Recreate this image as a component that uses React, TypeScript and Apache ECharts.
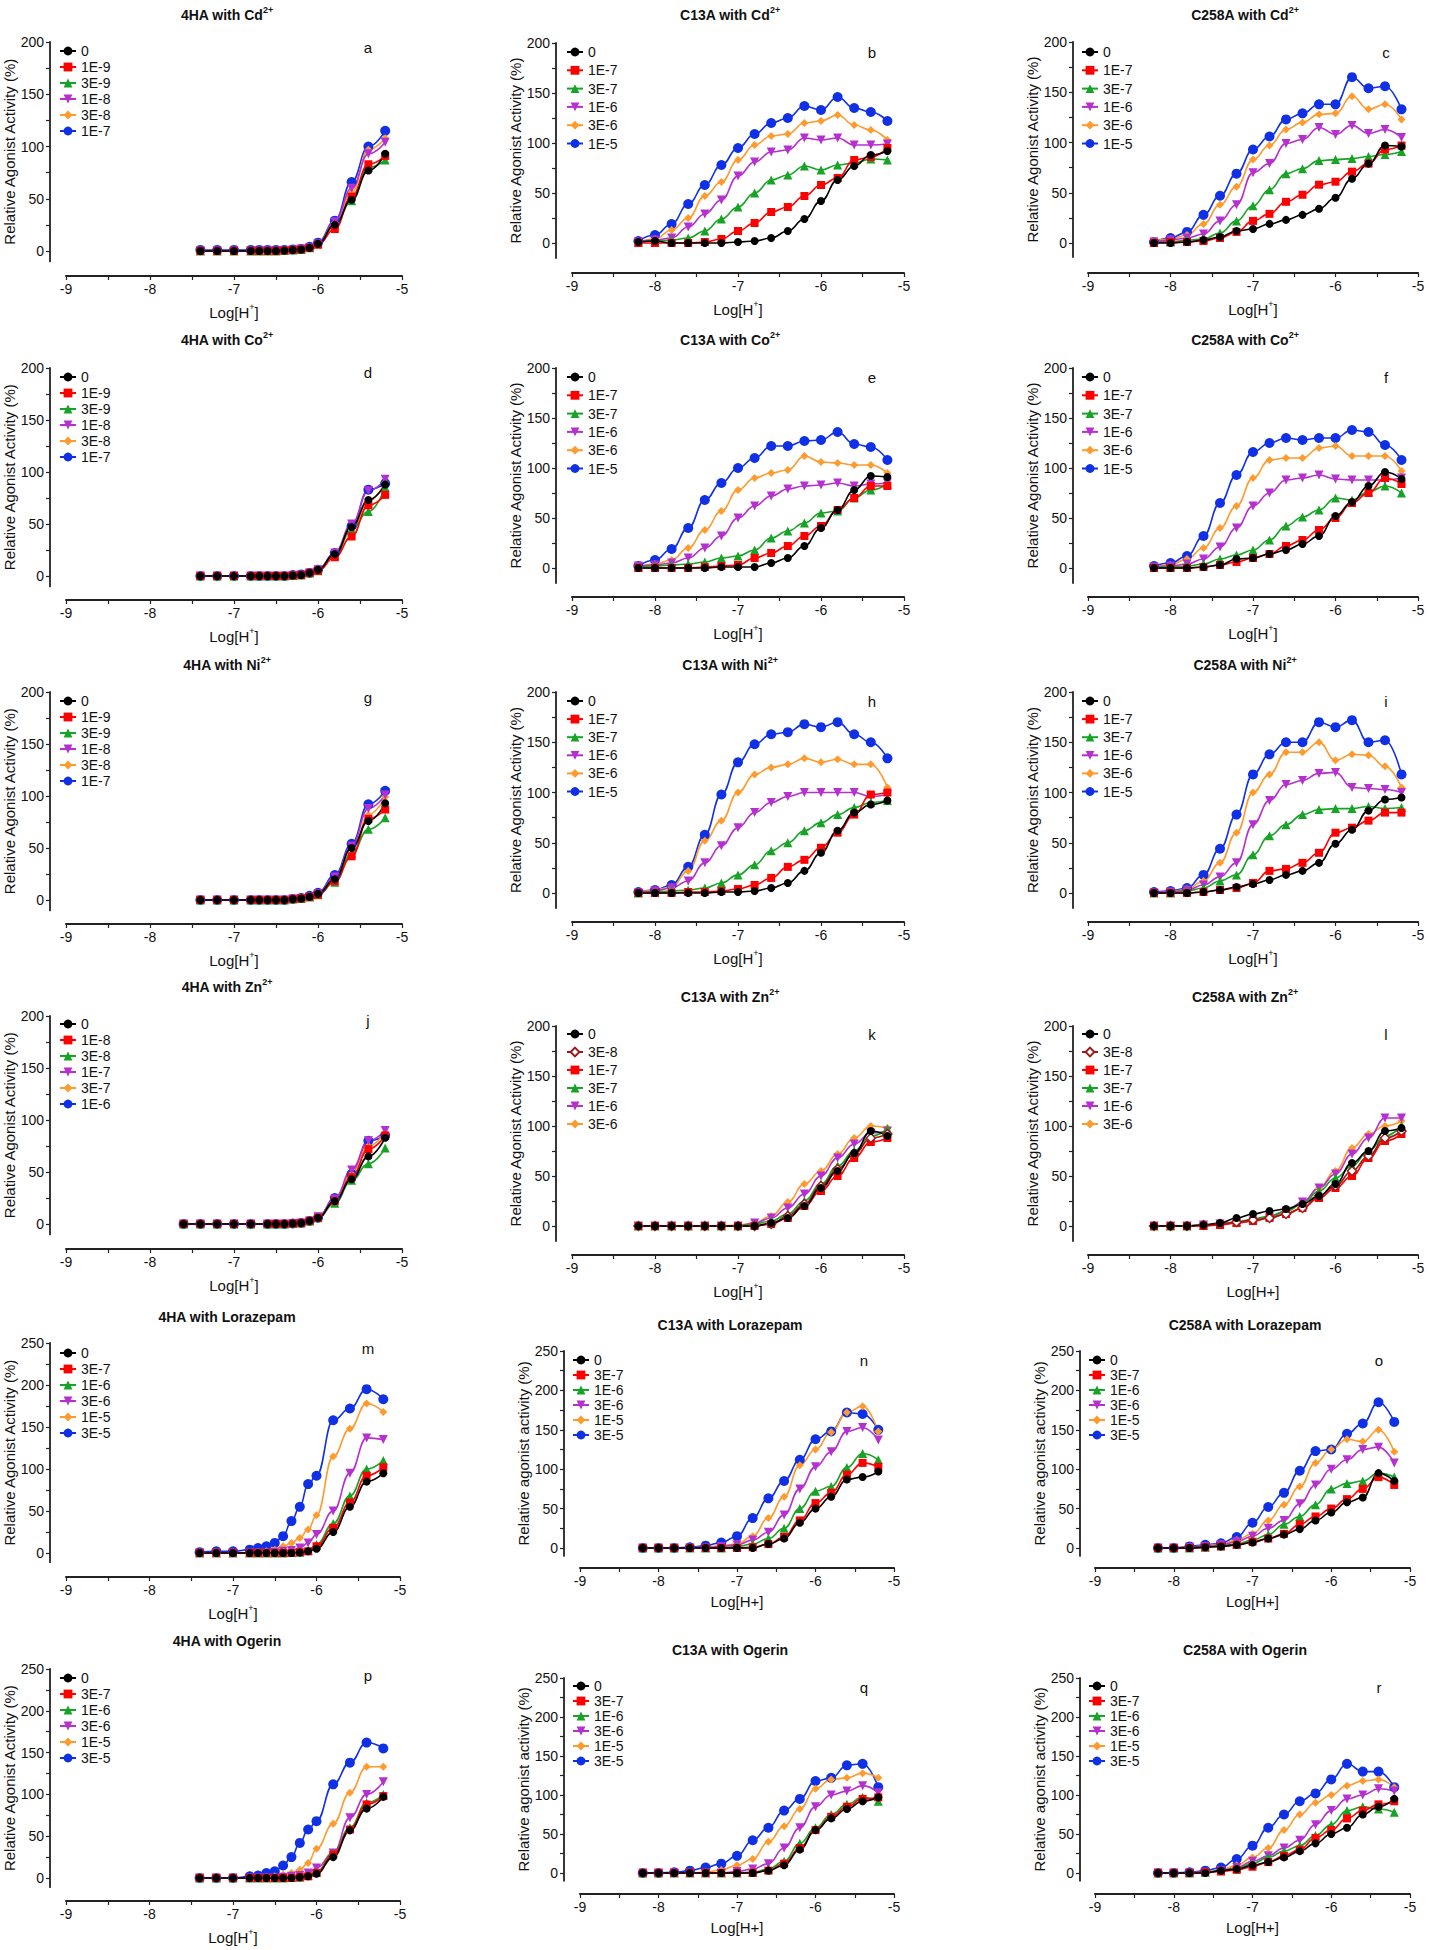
import React, { useEffect, useRef } from "react";
import * as echarts from "echarts";

// ---------- x values (log[H+]) ----------
const X_4HA = [-7.4, -7.2, -7.0, -6.8, -6.7, -6.6, -6.5, -6.4, -6.3, -6.2, -6.1, -6.0, -5.8, -5.6, -5.4, -5.2];
const X_4HA_ZN = [-7.6, -7.4, -7.2, -7.0, -6.8, -6.6, -6.5, -6.4, -6.3, -6.2, -6.1, -6.0, -5.8, -5.6, -5.4, -5.2];
const X_MUT = [-8.2, -8.0, -7.8, -7.6, -7.4, -7.2, -7.0, -6.8, -6.6, -6.4, -6.2, -6.0, -5.8, -5.6, -5.4, -5.2];

// ---------- legend labels ----------
const LEG_4HA_METAL = ["0", "1E-9", "3E-9", "1E-8", "3E-8", "1E-7"];
const LEG_MUT_METAL = ["0", "1E-7", "3E-7", "1E-6", "3E-6", "1E-5"];
const LEG_4HA_ZN = ["0", "1E-8", "3E-8", "1E-7", "3E-7", "1E-6"];
const LEG_MUT_ZN = ["0", "3E-8", "1E-7", "3E-7", "1E-6", "3E-6"];
const LEG_DRUG = ["0", "3E-7", "1E-6", "3E-6", "1E-5", "3E-5"];

// ---------- tick labels ----------
const X_TICKS = [-9, -8, -7, -6, -5];
const Y_LABELS_200 = [0, 50, 100, 150, 200];
const Y_TICKS_200 = [0, 25, 50, 75, 100, 125, 150, 175, 200];
const Y_LABELS_250 = [0, 50, 100, 150, 200, 250];
const Y_TICKS_250 = [0, 25, 50, 75, 100, 125, 150, 175, 200, 225, 250];

// ---------- values (%), one row per concentration, in legend order ----------
const A_VALS = [
  [0, 0, 0, 0, 0, 0, 0, 0.5, 1, 1.5, 3, 7, 25, 49, 77, 93],
  [0, 0, 0, 0, 0, 0, 0, 0.5, 1, 1.5, 3, 6, 21, 52, 83, 91],
  [0, 0, 0, 0, 0, 0, 0, 0.5, 1, 1.5, 3, 7, 25, 48, 80, 87],
  [0, 0, 0, 0, 0, 0, 0, 0.5, 1, 2, 3, 7, 28, 60, 93, 104],
  [0, 0, 0, 0, 0, 0, 0, 0.5, 1, 2, 3, 7, 27, 56, 97, 108],
  [1, 1, 1, 1, 1, 1, 1, 1, 1.5, 2, 4, 8, 29, 66, 100, 115],
];
const B_VALS = [
  [1, 2, 0, 0, 0, 0, 1, 2, 5, 12, 24, 42, 63, 77, 88, 92],
  [0, 0, 0, 0, 1, 4, 12, 20, 31, 36, 47, 58, 65, 83, 86, 95],
  [1, 2, 3, 5, 12, 24, 36, 50, 63, 68, 77, 73, 78, 80, 84, 83],
  [1, 3, 5, 16, 29, 43, 67, 81, 91, 93, 105, 103, 105, 98, 98, 99],
  [1, 4, 13, 25, 47, 61, 83, 98, 107, 109, 120, 122, 128, 118, 113, 103],
  [2, 8, 19, 39, 58, 78, 95, 109, 120, 125, 137, 133, 146, 135, 131, 122],
];
const C_VALS = [
  [0, 0, 1, 3, 6, 12, 14, 19, 23, 28, 34, 45, 64, 79, 97, 96],
  [0, 1, 1, 2, 5, 11, 22, 29, 41, 48, 58, 61, 71, 79, 93, 97],
  [1, 1, 3, 4, 10, 22, 37, 53, 69, 74, 82, 83, 84, 86, 88, 91],
  [1, 3, 5, 9, 22, 38, 70, 79, 99, 103, 115, 108, 117, 109, 113, 105],
  [2, 4, 8, 19, 38, 56, 83, 97, 113, 120, 128, 129, 146, 133, 138, 123],
  [1, 5, 11, 28, 47, 69, 93, 106, 123, 129, 138, 138, 165, 154, 156, 133],
];
const D_VALS = [
  [0, 0, 0, 0, 0, 0, 0, 0, 0.5, 1, 3, 6, 21, 47, 73, 88],
  [0, 0, 0, 0, 0, 0, 0, 0, 0.5, 1, 3, 5, 18, 38, 68, 78],
  [0, 0, 0, 0, 0, 0, 0, 0, 0.5, 1, 3, 5, 20, 45, 62, 85],
  [0, 0, 0, 0, 0, 0, 0, 0, 0.5, 1, 3, 6, 22, 50, 82, 93],
  [0, 0, 0, 0, 0, 0, 0, 0, 0.5, 1, 3, 6, 20, 44, 72, 90],
  [0, 0, 0, 0, 0, 0, 0, 0, 1, 1.5, 3, 6, 22, 48, 83, 89],
];
const E_VALS = [
  [0, 0, 0, 0, 0, 1, 1, 1, 5, 10, 22, 40, 58, 78, 92, 91],
  [0, 0, 0, 0, 1, 2, 3, 10, 15, 22, 32, 42, 58, 70, 82, 82],
  [1, 2, 3, 4, 6, 10, 12, 18, 30, 37, 45, 55, 57, 70, 78, 84],
  [2, 3, 5, 10, 20, 32, 50, 62, 72, 79, 82, 83, 85, 82, 84, 85],
  [1, 4, 8, 20, 38, 57, 78, 90, 95, 98, 112, 106, 105, 103, 103, 95],
  [2, 8, 19, 40, 68, 85, 100, 110, 122, 122, 127, 128, 136, 124, 121, 108],
];
const F_VALS = [
  [0, 0, 0, 1, 3, 9, 10, 14, 18, 24, 32, 52, 66, 82, 96, 89],
  [0, 0, 0, 1, 3, 6, 10, 14, 22, 28, 38, 50, 65, 75, 90, 84],
  [1, 1, 2, 4, 9, 13, 18, 28, 42, 51, 58, 70, 68, 76, 82, 75],
  [1, 2, 4, 9, 21, 40, 62, 75, 88, 90, 93, 89, 88, 88, 88, 90],
  [1, 3, 9, 20, 40, 62, 90, 108, 110, 110, 120, 122, 112, 112, 112, 97],
  [2, 5, 12, 32, 65, 93, 116, 125, 130, 128, 130, 130, 138, 136, 123, 108],
];
const G_VALS = [
  [0, 0, 0, 0, 0, 0, 0, 0, 1, 1.5, 3, 6, 20, 50, 76, 93],
  [0, 0, 0, 0, 0, 0, 0, 0, 1, 1.5, 3, 5, 18, 42, 78, 87],
  [0, 0, 0, 0, 0, 0, 0, 0, 1, 1.5, 3, 5, 17, 45, 68, 79],
  [0, 0, 0, 0, 0, 0, 0, 0, 1, 1.5, 3, 6, 22, 52, 88, 101],
  [0, 0, 0, 0, 0, 0, 0, 0, 1, 1.5, 3, 6, 20, 42, 82, 99],
  [0, 0, 0, 0, 0, 0, 0, 0, 1, 2, 4, 7, 24, 54, 92, 105],
];
const H_VALS = [
  [0, 0, 0, 0, 0, 1, 1, 2, 5, 10, 22, 40, 62, 80, 88, 92],
  [0, 0, 0, 1, 1, 2, 4, 8, 15, 26, 33, 45, 60, 78, 98, 100],
  [0, 1, 2, 3, 5, 10, 18, 28, 42, 50, 62, 70, 78, 85, 90, 92],
  [0, 2, 5, 12, 30, 47, 65, 80, 90, 96, 100, 100, 100, 100, 96, 98],
  [0, 3, 6, 22, 52, 72, 100, 118, 125, 128, 134, 130, 133, 128, 128, 105],
  [1, 3, 8, 26, 58, 98, 130, 148, 158, 160, 168, 165, 170, 158, 150, 134],
];
const I_VALS = [
  [0, 0, 0, 1, 3, 6, 9, 13, 18, 22, 30, 49, 63, 82, 93, 95],
  [0, 0, 0, 1, 3, 5, 10, 22, 24, 30, 40, 60, 65, 72, 80, 80],
  [0, 0, 2, 5, 12, 18, 38, 57, 68, 78, 83, 84, 84, 86, 84, 85],
  [0, 1, 3, 8, 16, 30, 68, 92, 108, 112, 119, 120, 105, 104, 103, 100],
  [0, 1, 4, 12, 30, 60, 100, 118, 140, 140, 150, 132, 138, 137, 126, 105],
  [1, 2, 5, 18, 44, 78, 118, 138, 150, 150, 170, 165, 172, 150, 152, 118],
];
const J_VALS = [
  [0, 0, 0, 0, 0, 0, 0, 0, 0.5, 1, 3, 6, 22, 43, 65, 83],
  [0, 0, 0, 0, 0, 0, 0, 0, 0.5, 1, 3, 6, 22, 45, 72, 85],
  [0, 0, 0, 0, 0, 0, 0, 0, 0.5, 1, 3, 6, 20, 42, 58, 73],
  [0, 0, 0, 0, 0, 0, 0, 0, 0.5, 1, 3, 7, 24, 52, 80, 90],
  [0, 0, 0, 0, 0, 0, 0, 0, 0.5, 1, 3, 6, 23, 48, 75, 88],
  [0, 0, 0, 0, 0, 0, 0, 0, 0.5, 1, 3, 6, 25, 48, 80, 85],
];
const K_VALS = [
  [0, 0, 0, 0, 0, 0, 0, 0, 3, 8, 20, 38, 55, 73, 95, 90],
  [0, 0, 0, 0, 0, 0, 0, 0, 2, 10, 22, 40, 57, 72, 88, 92],
  [0, 0, 0, 0, 0, 0, 0, 0, 2, 8, 20, 35, 50, 68, 84, 88],
  [0, 0, 0, 0, 0, 0, 0, 2, 5, 12, 25, 42, 60, 75, 90, 97],
  [0, 0, 0, 0, 0, 0, 0, 3, 8, 18, 32, 50, 68, 82, 93, 95],
  [0, 0, 0, 0, 0, 0, 1, 3, 10, 24, 42, 55, 72, 88, 100, 98],
];
const L_VALS = [
  [0, 0, 0, 1, 3, 8, 12, 15, 17, 22, 30, 42, 63, 75, 95, 98],
  [0, 0, 0, 1, 2, 4, 6, 8, 12, 18, 30, 40, 55, 70, 88, 95],
  [0, 0, 0, 0, 1, 3, 5, 8, 12, 18, 28, 38, 50, 68, 85, 92],
  [0, 0, 0, 1, 2, 4, 7, 10, 15, 22, 35, 48, 60, 75, 90, 100],
  [0, 0, 0, 1, 2, 3, 5, 9, 15, 24, 38, 52, 72, 88, 108, 108],
  [0, 0, 0, 1, 2, 3, 5, 8, 14, 22, 38, 55, 78, 92, 100, 105],
];
const M_VALS = [
  [0, 0, 0, 0, 0, 0, 0, 0, 0, 0.5, 2, 5, 25, 55, 85, 95],
  [0, 0, 0, 0, 0, 0, 0, 0, 0, 1, 2, 8, 30, 60, 92, 102],
  [0, 0, 0, 0, 0, 0, 0, 0, 0.5, 1, 3, 10, 35, 68, 100, 110],
  [0, 0, 0, 0, 0, 0, 1, 2, 3, 6, 12, 22, 50, 95, 137, 135],
  [0, 0, 0, 0, 1, 2, 4, 8, 12, 18, 28, 45, 115, 148, 178, 168],
  [1, 2, 2, 4, 6, 8, 12, 20, 38, 55, 82, 92, 158, 172, 195, 183],
];
const N_VALS = [
  [0, 0, 0, 0, 0, 0, 0, 0, 5, 12, 32, 50, 65, 87, 90, 97],
  [0, 0, 0, 0, 0, 0, 0, 1, 5, 14, 35, 57, 70, 93, 108, 103],
  [0, 0, 0, 0, 0, 0, 2, 5, 12, 25, 50, 72, 78, 102, 120, 112],
  [0, 0, 0, 0, 0, 2, 4, 10, 20, 42, 75, 103, 122, 148, 153, 137],
  [0, 0, 0, 0, 1, 3, 5, 15, 38, 65, 105, 125, 147, 172, 180, 148],
  [0, 0, 0, 1, 3, 7, 15, 38, 63, 85, 112, 138, 148, 172, 170, 150],
];
const O_VALS = [
  [0, 0, 0, 1, 2, 4, 7, 12, 17, 24, 35, 45, 58, 64, 95, 85],
  [0, 0, 0, 1, 2, 4, 8, 12, 18, 30, 40, 50, 62, 75, 90, 80],
  [0, 0, 0, 1, 3, 5, 10, 17, 30, 40, 55, 75, 82, 85, 95, 90],
  [0, 0, 1, 2, 4, 8, 15, 25, 35, 56, 80, 100, 112, 125, 128, 108],
  [0, 0, 1, 3, 5, 10, 18, 35, 55, 78, 108, 125, 138, 135, 150, 122],
  [0, 0, 2, 4, 6, 14, 32, 52, 70, 98, 123, 125, 145, 158, 185, 160],
];
const P_VALS = [
  [0, 0, 0, 0, 0, 0, 0, 0, 0, 1, 2, 5, 25, 57, 83, 97],
  [0, 0, 0, 0, 0, 0, 0, 0, 0, 1, 2, 6, 28, 58, 88, 98],
  [0, 0, 0, 0, 0, 0, 0, 0, 0.5, 1, 3, 7, 30, 60, 90, 100],
  [0, 0, 0, 0, 0, 0, 0, 1, 2, 3, 6, 12, 30, 72, 100, 115],
  [0, 0, 0, 0, 0, 1, 2, 4, 6, 10, 18, 35, 65, 102, 133, 133],
  [0, 0, 0, 2, 3, 6, 8, 15, 25, 42, 58, 68, 112, 138, 162, 155],
];
const Q_VALS = [
  [0, 0, 0, 0, 0, 0, 0, 0, 3, 10, 30, 55, 70, 82, 92, 97],
  [0, 0, 0, 0, 0, 0, 0, 0, 3, 12, 32, 55, 72, 85, 95, 97],
  [0, 0, 0, 0, 0, 0, 0, 1, 5, 15, 38, 58, 75, 88, 97, 92],
  [0, 0, 0, 0, 0, 0, 2, 5, 12, 32, 58, 85, 100, 105, 112, 103],
  [0, 0, 0, 0, 1, 4, 10, 18, 40, 60, 82, 108, 120, 122, 128, 122],
  [0, 0, 1, 3, 7, 12, 22, 42, 58, 80, 95, 118, 122, 138, 140, 110],
];
const R_VALS = [
  [0, 0, 0, 0, 3, 5, 10, 14, 20, 28, 38, 50, 58, 75, 85, 95],
  [0, 0, 0, 1, 2, 4, 8, 14, 22, 30, 45, 55, 70, 80, 88, 92],
  [0, 0, 0, 1, 3, 6, 12, 20, 28, 35, 48, 62, 80, 85, 82, 78],
  [0, 0, 0, 1, 3, 7, 15, 22, 32, 42, 62, 80, 95, 100, 108, 105],
  [0, 0, 0, 1, 4, 10, 20, 32, 55, 75, 90, 100, 112, 118, 120, 110],
  [0, 0, 1, 3, 7, 18, 35, 58, 75, 92, 102, 120, 140, 130, 130, 110],
];

// ---------- styles ----------
const FONT = '"Liberation Sans", Arial, Helvetica, sans-serif';
const INV_TRI = "path://M0,0L10,0L5,9Z";
const COL = {
  black: "#000000",
  red: "#ff0000",
  green: "#17a325",
  purple: "#b530cf",
  orange: "#ff9a2e",
  blue: "#1030e6",
  darkred: "#9a1b1b",
};
type Sty = { color: string; symbol: string; size: number; hollow?: boolean };
const STD: Sty[] = [
  { color: COL.black, symbol: "circle", size: 8 },
  { color: COL.red, symbol: "rect", size: 8 },
  { color: COL.green, symbol: "triangle", size: 9 },
  { color: COL.purple, symbol: INV_TRI, size: 9 },
  { color: COL.orange, symbol: "diamond", size: 8 },
  { color: COL.blue, symbol: "circle", size: 10 },
];
const ZNM: Sty[] = [
  { color: COL.black, symbol: "circle", size: 8 },
  { color: COL.darkred, symbol: "diamond", size: 9, hollow: true },
  { color: COL.red, symbol: "rect", size: 8 },
  { color: COL.green, symbol: "triangle", size: 9 },
  { color: COL.purple, symbol: INV_TRI, size: 9 },
  { color: COL.orange, symbol: "diamond", size: 8 },
];

const YN_CAP = "Relative Agonist Activity (%)";
const YN_LOW = "Relative agonist activity (%)";
const XN_SUP = "Log[H{s|+}]";
const XN_PLAIN = "Log[H+]";

// ---------- layout (page pixels) ----------
type Geo = {
  x9: number; x5: number; ax: number; top: number; y0: number; xa: number; ymin: number;
  tX: number; tY: number; lX: number; lY: number; gX: number; gY: number; sp: number; ng: number; xg: number;
};
type Panel = {
  id: string; title: string; x: number[]; vals: number[][]; legend: string[]; sty: Sty[];
  ymax: number; yname: string; xname: string; g: Geo;
};

const C1 = { x9: 66, x5: 402, ax: 50, tX: 227, lX: 368, gX: 67, ng: 31, xg: 26 };
const C2 = { x9: 572, x5: 904, ax: 556, tX: 730, lX: 872, gX: 574, ng: 29, xg: 26 };
const C3 = { x9: 1088, x5: 1418, ax: 1073, tX: 1245, lX: 1386, gX: 1089, ng: 32, xg: 26 };
const C2b = { x9: 580, x5: 894, ax: 564, tX: 730, lX: 864, gX: 580, ng: 23, xg: 23 };
const C3b = { x9: 1095, x5: 1410, ax: 1080, tX: 1245, lX: 1379, gX: 1096, ng: 29, xg: 23 };

const PANELS: Panel[] = [
  { id: "a", title: "4HA with Cd{s|2+}", x: X_4HA, vals: A_VALS, legend: LEG_4HA_METAL, sty: STD, ymax: 200, yname: YN_CAP, xname: XN_SUP,
    g: { ...C1, top: 42, y0: 251, xa: 276, ymin: -10, tY: 15, lY: 47, gY: 51, sp: 16 } },
  { id: "b", title: "C13A with Cd{s|2+}", x: X_MUT, vals: B_VALS, legend: LEG_MUT_METAL, sty: STD, ymax: 200, yname: YN_CAP, xname: XN_SUP,
    g: { ...C2, top: 43, y0: 243, xa: 273, ymin: -15, tY: 15, lY: 52, gY: 52, sp: 18.3 } },
  { id: "c", title: "C258A with Cd{s|2+}", x: X_MUT, vals: C_VALS, legend: LEG_MUT_METAL, sty: STD, ymax: 200, yname: YN_CAP, xname: XN_SUP,
    g: { ...C3, top: 42, y0: 243, xa: 273, ymin: -14, tY: 15, lY: 52, gY: 52, sp: 18.3 } },
  { id: "d", title: "4HA with Co{s|2+}", x: X_4HA, vals: D_VALS, legend: LEG_4HA_METAL, sty: STD, ymax: 200, yname: YN_CAP, xname: XN_SUP,
    g: { ...C1, top: 368, y0: 576, xa: 600, ymin: -10, tY: 340, lY: 372, gY: 377, sp: 16 } },
  { id: "e", title: "C13A with Co{s|2+}", x: X_MUT, vals: E_VALS, legend: LEG_MUT_METAL, sty: STD, ymax: 200, yname: YN_CAP, xname: XN_SUP,
    g: { ...C2, top: 368, y0: 568, xa: 597, ymin: -15, tY: 340, lY: 377, gY: 377, sp: 18.3 } },
  { id: "f", title: "C258A with Co{s|2+}", x: X_MUT, vals: F_VALS, legend: LEG_MUT_METAL, sty: STD, ymax: 200, yname: YN_CAP, xname: XN_SUP,
    g: { ...C3, top: 368, y0: 568, xa: 597, ymin: -15, tY: 340, lY: 377, gY: 377, sp: 18.3 } },
  { id: "g", title: "4HA with Ni{s|2+}", x: X_4HA, vals: G_VALS, legend: LEG_4HA_METAL, sty: STD, ymax: 200, yname: YN_CAP, xname: XN_SUP,
    g: { ...C1, top: 692, y0: 900, xa: 924, ymin: -10, tY: 665, lY: 697, gY: 701, sp: 16 } },
  { id: "h", title: "C13A with Ni{s|2+}", x: X_MUT, vals: H_VALS, legend: LEG_MUT_METAL, sty: STD, ymax: 200, yname: YN_CAP, xname: XN_SUP,
    g: { ...C2, top: 692, y0: 893, xa: 922, ymin: -15, tY: 665, lY: 701, gY: 701, sp: 18.1 } },
  { id: "i", title: "C258A with Ni{s|2+}", x: X_MUT, vals: I_VALS, legend: LEG_MUT_METAL, sty: STD, ymax: 200, yname: YN_CAP, xname: XN_SUP,
    g: { ...C3, top: 692, y0: 893, xa: 922, ymin: -15, tY: 665, lY: 701, gY: 701, sp: 18.1 } },
  { id: "j", title: "4HA with Zn{s|2+}", x: X_4HA_ZN, vals: J_VALS, legend: LEG_4HA_ZN, sty: STD, ymax: 200, yname: YN_CAP, xname: XN_SUP,
    g: { ...C1, top: 1016, y0: 1224, xa: 1249, ymin: -10, tY: 987, lY: 1020, gY: 1024, sp: 16 } },
  { id: "k", title: "C13A with Zn{s|2+}", x: X_MUT, vals: K_VALS, legend: LEG_MUT_ZN, sty: ZNM, ymax: 200, yname: YN_CAP, xname: XN_SUP,
    g: { ...C2, top: 1026, y0: 1226, xa: 1255, ymin: -15, tY: 997, lY: 1034, gY: 1034, sp: 18 } },
  { id: "l", title: "C258A with Zn{s|2+}", x: X_MUT, vals: L_VALS, legend: LEG_MUT_ZN, sty: ZNM, ymax: 200, yname: YN_CAP, xname: XN_PLAIN,
    g: { ...C3, top: 1026, y0: 1226, xa: 1255, ymin: -15, tY: 997, lY: 1034, gY: 1034, sp: 18 } },
  { id: "m", title: "4HA with Lorazepam", x: X_4HA, vals: M_VALS, legend: LEG_DRUG, sty: STD, ymax: 250, yname: YN_CAP, xname: XN_SUP,
    g: { ...C1, x5: 400, top: 1343, y0: 1553, xa: 1577, ymin: -11, tY: 1317, lY: 1348, gY: 1353, sp: 16 } },
  { id: "n", title: "C13A with Lorazepam", x: X_MUT, vals: N_VALS, legend: LEG_DRUG, sty: STD, ymax: 250, yname: YN_LOW, xname: XN_PLAIN,
    g: { ...C2b, top: 1351, y0: 1548, xa: 1568, ymin: -10, tY: 1325, lY: 1360, gY: 1360, sp: 15 } },
  { id: "o", title: "C258A with Lorazepam", x: X_MUT, vals: O_VALS, legend: LEG_DRUG, sty: STD, ymax: 250, yname: YN_LOW, xname: XN_PLAIN,
    g: { ...C3b, top: 1351, y0: 1548, xa: 1568, ymin: -10, tY: 1325, lY: 1360, gY: 1360, sp: 15 } },
  { id: "p", title: "4HA with Ogerin", x: X_4HA, vals: P_VALS, legend: LEG_DRUG, sty: STD, ymax: 250, yname: YN_CAP, xname: XN_SUP,
    g: { ...C1, x5: 400, top: 1669, y0: 1878, xa: 1901, ymin: -11, tY: 1641, lY: 1675, gY: 1678, sp: 16 } },
  { id: "q", title: "C13A with Ogerin", x: X_MUT, vals: Q_VALS, legend: LEG_DRUG, sty: STD, ymax: 250, yname: YN_LOW, xname: XN_PLAIN,
    g: { ...C2b, top: 1678, y0: 1873, xa: 1894, ymin: -10, tY: 1650, lY: 1687, gY: 1686, sp: 15 } },
  { id: "r", title: "C258A with Ogerin", x: X_MUT, vals: R_VALS, legend: LEG_DRUG, sty: STD, ymax: 250, yname: YN_LOW, xname: XN_PLAIN,
    g: { ...C3b, top: 1678, y0: 1873, xa: 1894, ymin: -10, tY: 1650, lY: 1687, gY: 1686, sp: 15 } },
];

const AXIS_COLOR = "#222222";
const TEXT_COLOR = "#111111";

function buildOption() {
  const grid: any[] = [];
  const xAxis: any[] = [];
  const yAxis: any[] = [];
  const series: any[] = [];
  const legend: any[] = [];
  const graphic: any[] = [];

  PANELS.forEach((p, i) => {
    const g = p.g;
    const plotH = ((g.y0 - g.top) * (p.ymax - g.ymin)) / p.ymax;
    grid.push({ left: g.x9, top: g.top, width: g.x5 - g.x9, height: plotH });

    xAxis.push({
      gridIndex: i,
      type: "value",
      min: -9,
      max: -5,
      interval: 1,
      position: "bottom",
      offset: g.xa - (g.top + plotH),
      axisLine: { show: true, onZero: false, lineStyle: { color: AXIS_COLOR, width: 2 } },
      axisTick: { show: true, length: 4, customValues: X_TICKS, lineStyle: { color: AXIS_COLOR, width: 1.2 } },
      minorTick: { show: true, splitNumber: 2, length: 4, lineStyle: { color: AXIS_COLOR, width: 1.2 } },
      axisLabel: { customValues: X_TICKS, fontSize: 14, fontFamily: FONT, color: TEXT_COLOR, margin: 6 },
      splitLine: { show: false },
      minorSplitLine: { show: false },
      name: p.xname,
      nameLocation: "middle",
      nameGap: g.xg,
      nameTextStyle: {
        fontSize: 15,
        fontFamily: FONT,
        color: TEXT_COLOR,
        lineHeight: 20,
        rich: { s: { fontSize: 9, fontFamily: FONT, color: TEXT_COLOR, verticalAlign: "top", lineHeight: 10 } },
      },
    });

    yAxis.push({
      gridIndex: i,
      type: "value",
      min: g.ymin,
      max: p.ymax,
      position: "left",
      offset: g.x9 - g.ax,
      axisLine: { show: true, onZero: false, lineStyle: { color: AXIS_COLOR, width: 1.8 } },
      axisTick: {
        show: true,
        length: 4,
        customValues: p.ymax === 250 ? Y_TICKS_250 : Y_TICKS_200,
        lineStyle: { color: AXIS_COLOR, width: 1.2 },
      },
      axisLabel: {
        customValues: p.ymax === 250 ? Y_LABELS_250 : Y_LABELS_200,
        fontSize: 14,
        fontFamily: FONT,
        color: TEXT_COLOR,
        margin: 6,
      },
      splitLine: { show: false },
      name: p.yname,
      nameLocation: "middle",
      nameGap: g.ng,
      nameRotate: 90,
      nameTextStyle: { fontSize: 15, fontFamily: FONT, color: TEXT_COLOR },
    });

    // series drawn in reverse so that "0" (black) ends up on top
    for (let s = p.vals.length - 1; s >= 0; s--) {
      const st = p.sty[s];
      series.push({
        type: "line",
        name: `${p.id}#${p.legend[s]}`,
        xAxisIndex: i,
        yAxisIndex: i,
        data: p.x.map((xv, k) => [xv, p.vals[s][k]]),
        smooth: 0.45,
        smoothMonotone: "x",
        symbol: st.symbol,
        symbolSize: st.size,
        showSymbol: true,
        showAllSymbol: true,
        clip: false,
        silent: true,
        emphasis: { disabled: true },
        itemStyle: {
          color: st.hollow ? "#ffffff" : st.color,
          borderColor: st.color,
          borderWidth: st.hollow ? 1.5 : 0,
        },
        lineStyle: { color: st.color, width: 1.6 },
      });
    }

    legend.push({
      orient: "vertical",
      left: g.gX - 8,
      top: g.gY - 7,
      padding: 0,
      itemWidth: 16,
      itemHeight: 11,
      itemGap: g.sp - 14,
      selectedMode: false,
      data: p.legend.map((l) => `${p.id}#${l}`),
      formatter: (name: string) => name.split("#")[1],
      textStyle: { fontSize: 14, lineHeight: 14, fontFamily: FONT, color: TEXT_COLOR },
    });

    graphic.push({
      type: "text",
      x: g.tX,
      y: g.tY,
      silent: true,
      style: {
        text: p.title,
        font: `bold 14px ${FONT}`,
        fill: "#111111",
        align: "center",
        verticalAlign: "middle",
        lineHeight: 20,
        rich: { s: { fontSize: 9, fontWeight: "bold", fontFamily: FONT, fill: "#111111", verticalAlign: "top", lineHeight: 10 } },
      },
    });
    graphic.push({
      type: "text",
      x: g.lX,
      y: g.lY,
      silent: true,
      style: {
        text: p.id,
        font: `15px ${FONT}`,
        fill: "#111111",
        align: "center",
        verticalAlign: "middle",
      },
    });
  });

  return {
    animation: false,
    backgroundColor: "#ffffff",
    grid,
    xAxis,
    yAxis,
    series,
    legend,
    graphic,
  };
}

export default function App() {
  const ref = useRef<HTMLDivElement>(null);
  useEffect(() => {
    if (!ref.current) return;
    const chart = echarts.init(ref.current, null, { renderer: "svg" });
    chart.setOption(buildOption() as any);
    return () => chart.dispose();
  }, []);
  return (
    <div
      ref={ref}
      style={{ position: "absolute", left: 0, top: 0, width: 1430, height: 1950, background: "#ffffff" }}
    />
  );
}
